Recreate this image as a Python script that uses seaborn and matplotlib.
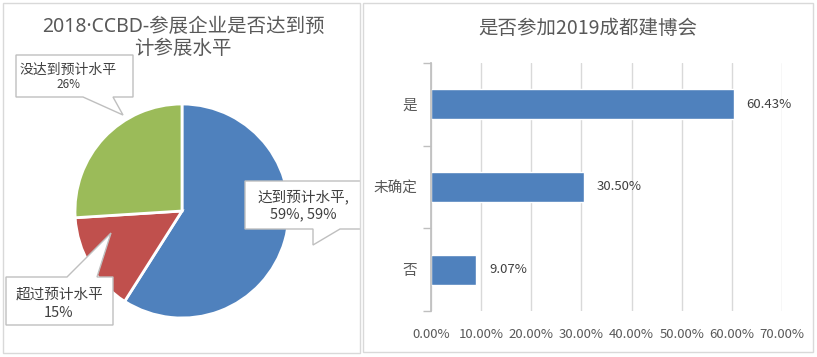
import numpy as np
import pandas as pd
import matplotlib.pyplot as plt
import matplotlib.patches as mpatches
from matplotlib.ticker import FuncFormatter
import seaborn as sns

# pie data
pie_labels = ["达到预计水平", "超过预计水平", "没达到预计水平"]
pie_values = [59, 15, 26]
pie_colors = ["#4F81BD", "#C0504D", "#9BBB59"]
pie_title = "2018·CCBD-参展企业是否达到预\n计参展水平"

# bar data
bar_labels = ["是", "未确定", "否"]
bar_values = [0.6043, 0.3050, 0.0907]
bar_color = "#4F81BD"
bar_title = "是否参加2019成都建博会"
x_ticks = [0.0, 0.1, 0.2, 0.3, 0.4, 0.5, 0.6, 0.7]

sns.set_theme(style="white")
plt.rcParams["font.family"] = ["Noto Sans CJK SC", "DejaVu Sans"]

W, H = 817, 357
fig = plt.figure(figsize=(W / 100, H / 100), dpi=100)
TXT = "#595959"
EDGE = "#bfbfbf"


def fx(px):
    return px / W


def fy(py):
    return 1 - py / H


# panel frames
for x0, x1, y0, y1 in [(3, 360, 3, 353), (363, 813, 3, 352)]:
    fig.add_artist(mpatches.Rectangle((fx(x0), fy(y1)), fx(x1) - fx(x0), fy(y0) - fy(y1),
                                      transform=fig.transFigure, fill=False,
                                      ec="#d9d9d9", lw=1))

# ---- left: pie ----
ax1 = fig.add_axes([fx(3), fy(353), fx(360) - fx(3), fy(3) - fy(353)])
ax1.pie(pie_values, colors=pie_colors, startangle=90, counterclock=False,
        center=(182, H - 211), radius=107, explode=[0, 0.03, 0],
        wedgeprops=dict(edgecolor="white", linewidth=2))
ax1.set_xlim(3, 360)
ax1.set_ylim(H - 353, H - 3)
ax1.set_aspect("auto")
ax1.axis("off")

# latin font first so the middle dot stays narrow
fig.text(fx(183), fy(38), pie_title, ha="center", va="center",
         fontsize=14, color=TXT, linespacing=1.1,
         family=["Noto Sans", "Noto Sans CJK SC"])


def callout(ax, box, side, base, tip, lines):
    x0, y0, x1, y1 = box
    b0, b1 = base
    if side == "bottom":
        pts = [(x0, y0), (x1, y0), (x1, y1), (b1, y1), tip, (b0, y1), (x0, y1)]
    else:
        pts = [(x0, y0), (b0, y0), tip, (b1, y0), (x1, y0), (x1, y1), (x0, y1)]
    pts = [(x, H - y) for x, y in pts]
    ax.add_patch(mpatches.Polygon(pts, closed=True, fc="white", ec=EDGE,
                                  lw=1, zorder=3))
    for (tx, ty, s, fs) in lines:
        ax.text(tx, H - ty, s, ha="center", va="center", fontsize=fs,
                color="#404040", zorder=4)


callout(ax1, (16, 55, 133, 97), "bottom", (83, 113), (123, 115),
        [(68, 70, pie_labels[2], 10), (68, 84, f"{pie_values[2]}%", 8.5)])
callout(ax1, (245, 181, 364, 229), "bottom", (313, 340), (313, 245),
        [(303, 197, pie_labels[0] + ",", 10.5),
         (303, 214, f"{pie_values[0]}%, {pie_values[0]}%", 10.5)])
callout(ax1, (6, 277, 113, 325), "top", (67, 97), (111, 233),
        [(59, 295, pie_labels[1], 10.5), (59, 313, f"{pie_values[1]}%", 10.5)])

# ---- right: bar ----
ax2 = fig.add_axes([fx(431), fy(311), fx(782) - fx(431), fy(63) - fy(311)])
df = pd.DataFrame({"cat": bar_labels, "val": bar_values})
sns.barplot(data=df, x="val", y="cat", orient="h", color=bar_color,
            width=0.36, saturation=1, ax=ax2)
ax2.set_xlim(0, 0.7)
ax2.set_ylim(2.5, -0.5)
ax2.set_xticks(x_ticks)
ax2.xaxis.set_major_formatter(FuncFormatter(lambda v, p: f"{v * 100:.2f}%"))
ax2.set_xlabel("")
ax2.set_ylabel("")
ax2.grid(axis="x", color="#d9d9d9", lw=1)
ax2.set_axisbelow(True)
for s in ["top", "right", "bottom"]:
    ax2.spines[s].set_visible(False)
ax2.spines["left"].set_color(EDGE)
ax2.set_yticks([-0.5, 0.5, 1.5, 2.5], minor=True)
ax2.tick_params(axis="y", which="minor", length=6, color=EDGE, direction="out", left=True)
ax2.tick_params(axis="y", which="major", length=0, pad=10, labelsize=10.5, labelcolor=TXT)
ax2.tick_params(axis="x", length=0, pad=12, labelsize=9.5, labelcolor=TXT)
ax2.bar_label(ax2.containers[0], labels=[f"{v * 100:.2f}%" for v in bar_values],
              padding=9, fontsize=9.5, color="#404040")

fig.text(fx(588), fy(28), bar_title, ha="center", va="center", fontsize=14, color=TXT)

fig.savefig("out.png", dpi=100)
